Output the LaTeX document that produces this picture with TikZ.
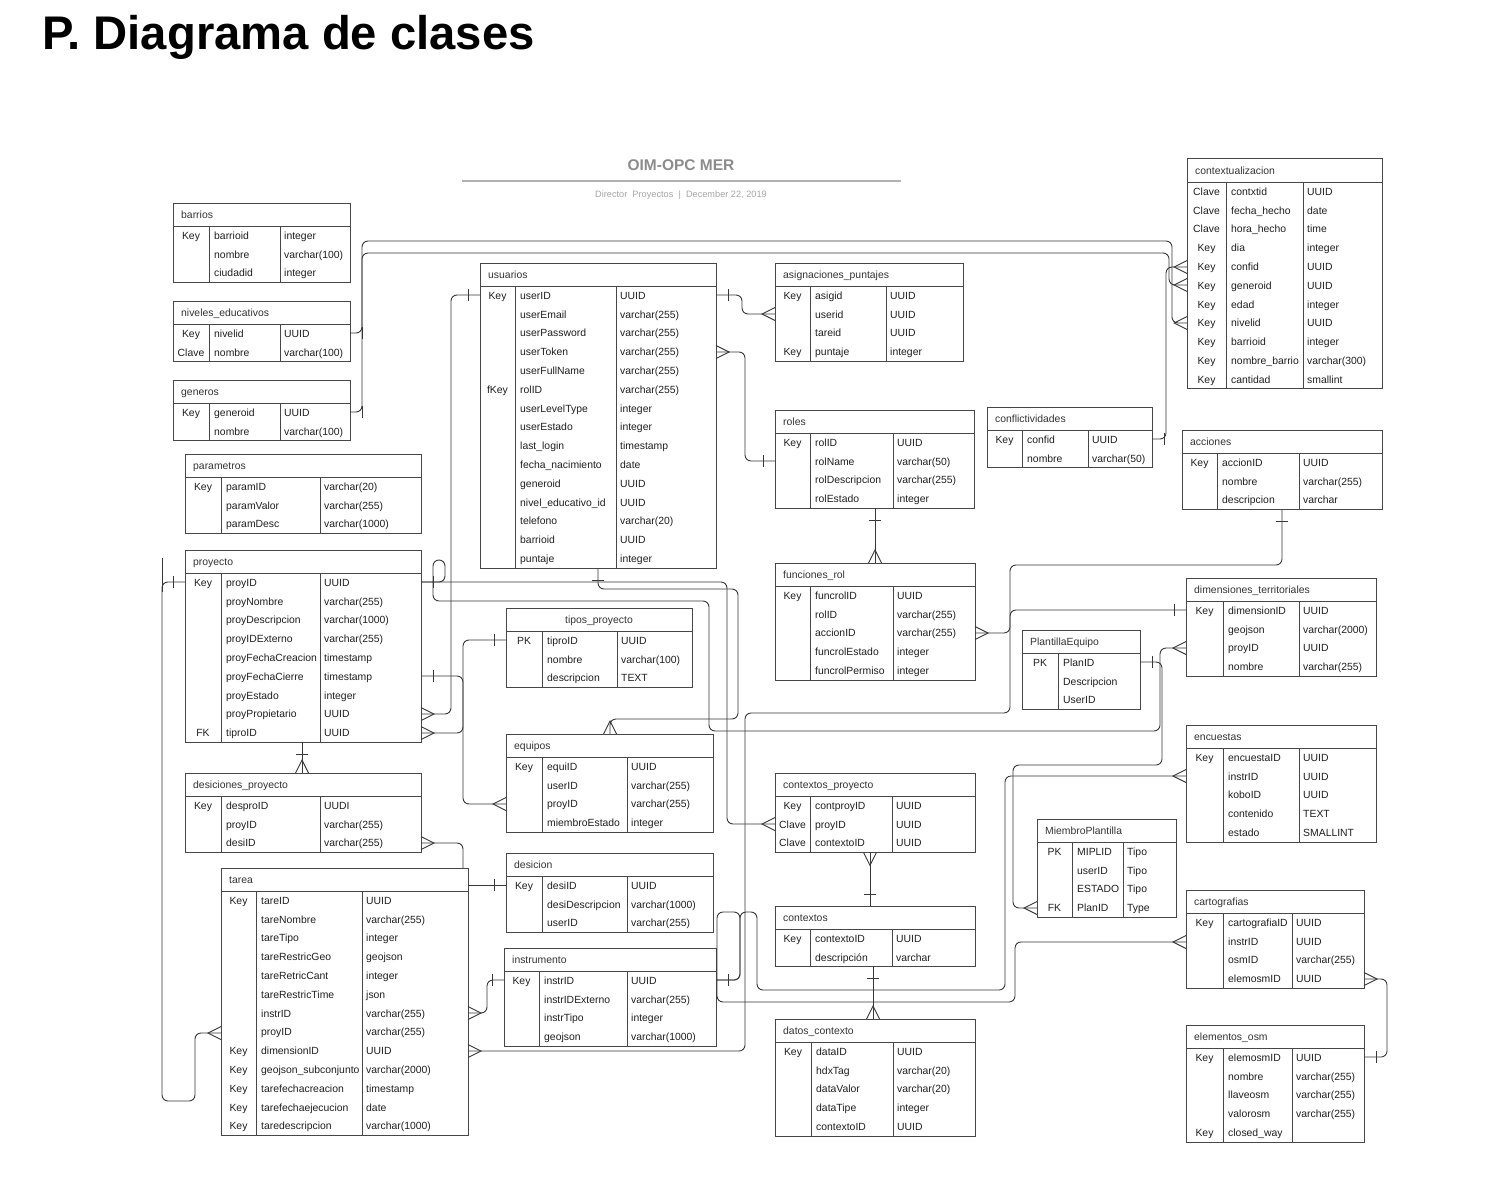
\documentclass[tikz,border=0pt]{standalone}
\usepackage{fontspec}
\setmainfont{Liberation Sans}
\usetikzlibrary{arrows.meta}

\pgfdeclarearrow{
  name = crowft,
  setup code = {
    \pgfarrowssettipend{0pt}
    \pgfarrowssetlineend{0pt}
    \pgfarrowssetbackend{-13pt}
    \pgfarrowssetvisualbackend{-13pt}
    \pgfarrowshullpoint{0pt}{6.5pt}
    \pgfarrowshullpoint{0pt}{-6.5pt}
    \pgfarrowshullpoint{-13pt}{0pt}
  },
  drawing code = {
    \pgfpathmoveto{\pgfqpoint{0pt}{6.5pt}}
    \pgfpathlineto{\pgfqpoint{-13pt}{0pt}}
    \pgfpathlineto{\pgfqpoint{0pt}{-6.5pt}}
    \pgfusepathqstroke
  }
}
\pgfdeclarearrow{
  name = onebar,
  setup code = {
    \pgfarrowssettipend{0pt}
    \pgfarrowssetlineend{0pt}
    \pgfarrowssetbackend{-12pt}
    \pgfarrowssetvisualbackend{-12pt}
    \pgfarrowshullpoint{-12pt}{6pt}
    \pgfarrowshullpoint{-12pt}{-6pt}
    \pgfarrowshullpoint{0pt}{0pt}
  },
  drawing code = {
    \pgfpathmoveto{\pgfqpoint{-12pt}{6pt}}
    \pgfpathlineto{\pgfqpoint{-12pt}{-6pt}}
    \pgfusepathqstroke
  }
}

\newcommand{\tbfont}{\fontsize{10.4}{12}\selectfont}

% #1 name, #2 xL, #3 xKey, #4 xType (0 = none), #5 xR, #6 yTop, #7 rows, #8 title, #9 row list
\newcommand{\erTable}[9]{%
  \pgfmathsetmacro{\erS}{#6+23}%
  \pgfmathsetmacro{\erB}{\erS+#7*18.8}%
  \pgfmathsetmacro{\erW}{#5-#2}%
  \pgfmathsetmacro{\erH}{\erB-#6}%
  \node[tblbox, minimum width=\erW pt, minimum height=\erH pt] (#1) at (#2,#6) {};
  \draw[tblline] (#2,\erS) -- (#5,\erS);
  \draw[tblline] (#3,\erS) -- (#3,\erB);
  \ifnum#4>0 \draw[tblline] (#4,\erS) -- (#4,\erB);\fi
  \node[tbltitle] (#1-title) at ({#2+8},{#6+15.3}) {#8};
  \foreach \ek/\en/\et [count=\i] in {#9} {
    \pgfmathsetmacro{\yb}{\erS+(\i-0.5)*18.8+3.8}
    \node[tbltext, anchor=base] (#1-k\i) at ({(#2+#3)/2},\yb) {\ek};
    \node[tbltext] (#1-n\i) at ({#3+5},\yb) {\en};
    \ifnum#4>0 \node[tbltext] (#1-t\i) at ({#4+4},\yb) {\et};\fi
  }
}

\tikzset{
  tblbox/.style={draw=black!72, line width=1pt, inner sep=0pt, outer sep=0pt, anchor=north west, fill=white},
  tblline/.style={draw=black!72, line width=1pt},
  tbltitle/.style={anchor=base west, inner sep=0pt, font=\tbfont, text=black!80},
  tbltext/.style={anchor=base west, inner sep=0pt, font=\tbfont, text=black!88},
  conn/.style={draw=black!78, line width=0.9pt, rounded corners=6pt},
}

\begin{document}
\begin{tikzpicture}[x=1pt,y=-1pt]
\useasboundingbox[fill=white] (0,0) rectangle (1486,1188);

% Title and header
\node[font=\fontsize{47.2}{52}\selectfont\bfseries, anchor=base west, inner sep=0pt] (ptitle) at (42,50) {P. Diagrama de clases};
\node[font=\fontsize{15.5}{18}\selectfont\bfseries, text=black!45, anchor=base, inner sep=0pt] (hdr) at (681,171) {OIM-OPC MER};
\draw[black!30, line width=1.3pt] (462,181) -- (901,181);
\node[font=\fontsize{9.2}{11}\selectfont, text=black!35, anchor=base, inner sep=0pt] (sub) at (681,197) {Director~~Proyectos~~|~~December 22, 2019};

% Tables
\erTable{barrios}{173}{209}{280}{350}{203}{3}{barrios}{Key/barrioid/integer, /nombre/varchar(100), /ciudadid/integer}
\erTable{niveles}{173}{209}{280}{350}{301}{2}{niveles\_educativos}{Key/nivelid/UUID, Clave/nombre/varchar(100)}
\erTable{generos}{173}{209}{280}{350}{380}{2}{generos}{Key/generoid/UUID, /nombre/varchar(100)}
\erTable{parametros}{185}{221}{320}{421}{454}{3}{parametros}{Key/paramID/varchar(20), /paramValor/varchar(255), /paramDesc/varchar(1000)}
\erTable{proyecto}{185}{221}{320}{421}{550}{9}{proyecto}{Key/proyID/UUID, /proyNombre/varchar(255), /proyDescripcion/varchar(1000), /proyIDExterno/varchar(255), /proyFechaCreacion/timestamp, /proyFechaCierre/timestamp, /proyEstado/integer, /proyPropietario/UUID, FK/tiproID/UUID}
\erTable{desproy}{185}{221}{320}{421}{773}{3}{desiciones\_proyecto}{Key/desproID/UUDI, /proyID/varchar(255), /desiID/varchar(255)}
\erTable{tarea}{221}{256}{362}{468}{868}{13}{tarea}{Key/tareID/UUID, /tareNombre/varchar(255), /tareTipo/integer, /tareRestricGeo/geojson, /tareRetricCant/integer, /tareRestricTime/json, /instrID/varchar(255), /proyID/varchar(255), Key/dimensionID/UUID, Key/geojson\_subconjunto/varchar(2000), Key/tarefechacreacion/timestamp, Key/tarefechaejecucion/date, Key/taredescripcion/varchar(1000)}
\erTable{usuarios}{480}{515}{616}{716}{263}{15}{usuarios}{Key/userID/UUID, /userEmail/varchar(255), /userPassword/varchar(255), /userToken/varchar(255), /userFullName/varchar(255), fKey/rolID/varchar(255), /userLevelType/integer, /userEstado/integer, /last\_login/timestamp, /fecha\_nacimiento/date, /generoid/UUID, /nivel\_educativo\_id/UUID, /telefono/varchar(20), /barrioid/UUID, /puntaje/integer}
\erTable{asig}{775}{810}{886}{963}{263}{4}{asignaciones\_puntajes}{Key/asigid/UUID, /userid/UUID, /tareid/UUID, Key/puntaje/integer}
\erTable{roles}{775}{810}{893}{974}{410}{4}{roles}{Key/rolID/UUID, /rolName/varchar(50), /rolDescripcion/varchar(255), /rolEstado/integer}
\erTable{conflict}{987}{1022}{1088}{1152}{407}{2}{conflictividades}{Key/confid/UUID, /nombre/varchar(50)}
\erTable{ctx}{1187}{1226}{1303}{1382}{159}{11}{contextualizacion}{Clave/contxtid/UUID, Clave/fecha\_hecho/date, Clave/hora\_hecho/time, Key/dia/integer, Key/confid/UUID, Key/generoid/UUID, Key/edad/integer, Key/nivelid/UUID, Key/barrioid/integer, Key/nombre\_barrio/varchar(300), Key/cantidad/smallint}
\erTable{acciones}{1182}{1217}{1299}{1382}{430}{3}{acciones}{Key/accionID/UUID, /nombre/varchar(255), /descripcion/varchar}
\erTable{funciones}{775}{810}{893}{975}{563}{5}{funciones\_rol}{Key/funcrolID/UUID, /rolID/varchar(255), /accionID/varchar(255), /funcrolEstado/integer, /funcrolPermiso/integer}
\erTable{tipos}{506}{542}{617}{692}{608}{3}{}{PK/tiproID/UUID, /nombre/varchar(100), /descripcion/TEXT}
\node[tbltitle, anchor=base] (tipos-head) at (599,623.3) {tipos\_proyecto};
\erTable{equipos}{506}{542}{627}{713}{734}{4}{equipos}{Key/equiID/UUID, /userID/varchar(255), /proyID/varchar(255), /miembroEstado/integer}
\erTable{desicion}{506}{542}{627}{713}{853}{3}{desicion}{Key/desiID/UUID, /desiDescripcion/varchar(1000), /userID/varchar(255)}
\erTable{instr}{504}{539}{627}{716}{948}{4}{instrumento}{Key/instrID/UUID, /instrIDExterno/varchar(255), /instrTipo/integer, /geojson/varchar(1000)}
\erTable{cproy}{775}{810}{892}{975}{773}{3}{contextos\_proyecto}{Key/contproyID/UUID, Clave/proyID/UUID, Clave/contextoID/UUID}
\erTable{contextos}{775}{810}{892}{975}{906}{2}{contextos}{Key/contextoID/UUID, /descripción/varchar}
\erTable{datos}{775}{811}{893}{975}{1019}{5}{datos\_contexto}{Key/dataID/UUID, /hdxTag/varchar(20), /dataValor/varchar(20), /dataTipe/integer, /contextoID/UUID}
\erTable{dim}{1186}{1223}{1299}{1376}{578}{4}{dimensiones\_territoriales}{Key/dimensionID/UUID, /geojson/varchar(2000), /proyID/UUID, /nombre/varchar(255)}
\erTable{plantilla}{1022}{1058}{0}{1140}{630}{3}{PlantillaEquipo}{PK/PlanID/, /Descripcion/, /UserID/}
\erTable{enc}{1186}{1223}{1299}{1376}{725}{5}{encuestas}{Key/encuestaID/UUID, /instrID/UUID, /koboID/UUID, /contenido/TEXT, /estado/SMALLINT}
\erTable{miembro}{1037}{1072}{1123}{1176}{819}{4}{MiembroPlantilla}{PK/MIPLID/Tipo, /userID/Tipo, /ESTADO/Tipo, FK/PlanID/Type}
\erTable{carto}{1186}{1223}{1292}{1364}{890}{4}{cartografias}{Key/cartografiaID/UUID, /instrID/UUID, /osmID/varchar(255), /elemosmID/UUID}
\erTable{elem}{1186}{1223}{1292}{1364}{1025}{5}{elementos\_osm}{Key/elemosmID/UUID, /nombre/varchar(255), /llaveosm/varchar(255), /valorosm/varchar(255), Key/closed\_way/}

% Connectors
\draw[conn, {onebar}-{crowft}] (niveles.east |- 0,333) -- (362,333) -- (362,241) -- (1172,241) -- (1172,323) -- (ctx.west |- 0,323);
\draw[conn, {onebar}-{crowft}] (generos.east |- 0,412) -- (362,412) -- (362,253) -- (1169,253) -- (1169,285) -- (ctx.west |- 0,285);
\draw[conn, {onebar}-{crowft}] (conflict.east |- 0,439) -- (1166,439) -- (1166,267) -- (ctx.west |- 0,267);
\draw[conn, {onebar}-{crowft}] (usuarios.west |- 0,295) -- (451,295) -- (451,714) -- (proyecto.east |- 0,714);
\draw[conn, {onebar}-{crowft}] (usuarios.east |- 0,295) -- (742,295) -- (742,314) -- (asig.west |- 0,314);
\draw[conn, {crowft}-{onebar}] (usuarios.east |- 0,352) -- (745,352) -- (745,461) -- (roles.west |- 0,461);
\draw[conn, {onebar}-{crowft}] (usuarios.south -| 598,0) -- (598,589) -- (738,589) -- (738,719) -- (610,719) -- (equipos.north -| 610,0);
\draw[conn, {onebar}-{crowft}] (proyecto.east |- 0,582) -- (727,582) -- (727,824) -- (cproy.west |- 0,824);
\draw[conn, -{crowft}] (proyecto.east |- 0,582) -- (445,582) -- (445,560) -- (433,560) -- (433,601) -- (709,601) -- (709,731) -- (1160,731) -- (1160,648) -- (dim.west |- 0,648);
\draw[conn, {onebar}-{crowft}] (proyecto.east |- 0,676) -- (463,676) -- (463,804) -- (equipos.west |- 0,804);
\draw[conn, {onebar}-{crowft}] (tipos.west |- 0,640) -- (463,640) -- (463,733) -- (proyecto.east |- 0,733);
\draw[conn, {onebar}-{crowft}] (proyecto.south -| 302,0) -- (desproy.north -| 302,0);
\draw[conn, {crowft}-] (desproy.east |- 0,843) -- (463,843) -- (tarea.north -| 463,0);
\draw[conn, -{onebar}] (tarea.east |- 0,885) -- (desicion.west |- 0,885);
\draw[conn, {onebar}-{crowft}] (instr.west |- 0,980) -- (487,980) -- (487,1013) -- (tarea.east |- 0,1013);
\draw[conn, {onebar}-{crowft}] (dim.west |- 0,610) -- (1010,610) -- (1010,713) -- (745,713) -- (745,1051) -- (tarea.east |- 0,1051);
\draw[conn, {onebar}-{crowft}] (acciones.south -| 1282,0) -- (1282,565) -- (1010,565) -- (1010,633) -- (funciones.east |- 0,633);
\draw[conn, {onebar}-{crowft}] (roles.south -| 875,0) -- (funciones.north -| 875,0);
\draw[conn, {onebar}-{crowft}] (plantilla.east |- 0,662) -- (1162,662) -- (1162,765) -- (1013,765) -- (1013,908) -- (miembro.west |- 0,908);
\draw[conn, {onebar}-{crowft}] (instr.east |- 0,980) -- (740,980) -- (740,912) -- (717,912) -- (717,1002) -- (1015,1002) -- (1015,942) -- (carto.west |- 0,942);
\draw[conn, -{crowft}] (instr.east |- 0,980) -- (740,980) -- (740,912) -- (757,912) -- (757,990) -- (1005,990) -- (1005,776) -- (enc.west |- 0,776);
\draw[conn, {onebar}-{crowft}] (contextos.north -| 870,0) -- (cproy.south -| 870,0);
\draw[conn, {onebar}-{crowft}] (contextos.south -| 873,0) -- (datos.north -| 873,0);
\draw[conn, {crowft}-{onebar}] (carto.east |- 0,979) -- (1387,979) -- (1387,1057) -- (elem.east |- 0,1057);
\coordinate (stubtop) at (162,558);
\draw[conn, {onebar}-{crowft}] (proyecto.west |- 0,582) -- (162,582) -- (162,1101) -- (195,1101) -- (195,1033) -- (tarea.west |- 0,1033);
\draw[conn] (stubtop) -- (162,592);
\end{tikzpicture}
\end{document}
